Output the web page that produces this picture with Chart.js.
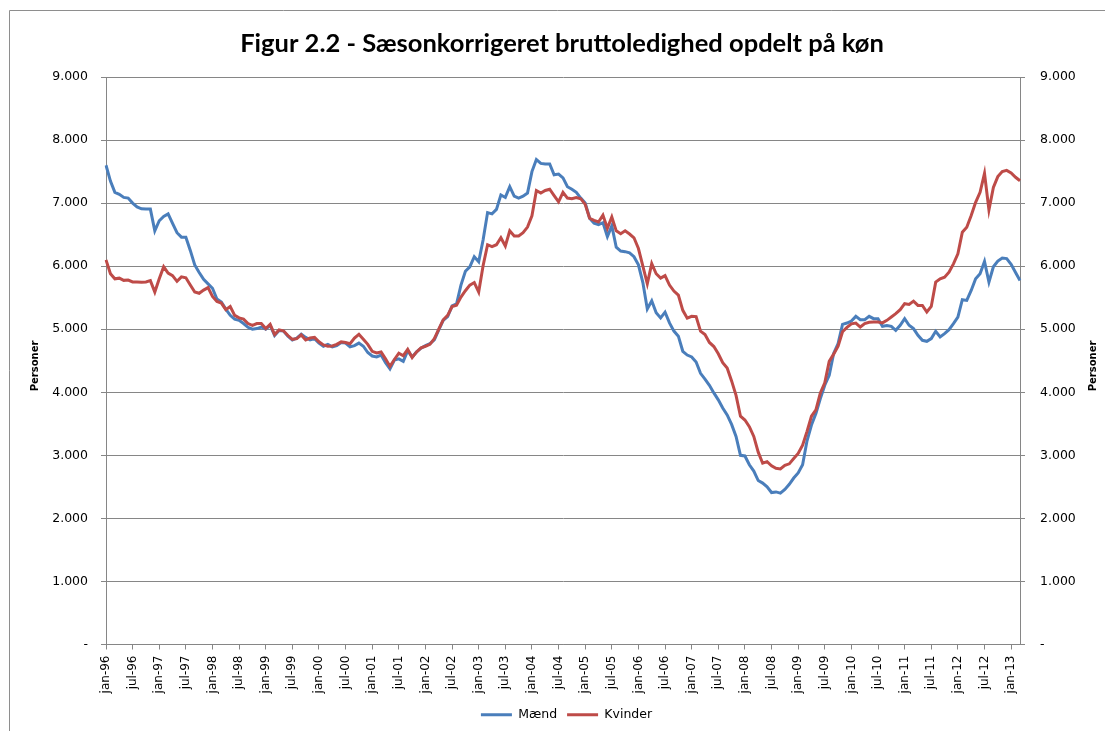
<!DOCTYPE html>
<html>
<head>
<meta charset="utf-8">
<script src="https://cdn.jsdelivr.net/npm/chart.js@4.4.0/dist/chart.umd.min.js"></script>
<style>
  html, body { margin: 0; padding: 0; background: #fff; }
  #chart { display: block; }
</style>
</head>
<body>
<canvas id="chart" width="1105" height="731"></canvas>
<script>
// Måneder jan-96 .. mar-13
const monthNames = ["jan", "feb", "mar", "apr", "maj", "jun", "jul", "aug", "sep", "okt", "nov", "dec"];
const months = [];
for (let y = 1996; y <= 2013; y++) {
  monthNames.forEach((m, i) => {
    if (y === 2013 && i > 2) return;
    months.push(m + "-" + String(y).slice(2));
  });
}

// Sæsonkorrigeret bruttoledighed, personer
const maend = [
  7600, 7350, 7170, 7140, 7090, 7080, 7000, 6940, 6910, 6905,
  6905, 6560, 6720, 6790, 6830, 6680, 6530, 6460, 6460, 6250,
  6020, 5900, 5790, 5720, 5650, 5480, 5430, 5320, 5220, 5160,
  5140, 5090, 5030, 5000, 5010, 5035, 5000, 5060, 4900, 4980,
  4970, 4890, 4830, 4860, 4920, 4870, 4830, 4850, 4780, 4730,
  4760, 4720, 4740, 4790, 4780, 4720, 4740, 4780, 4730, 4630,
  4575, 4560, 4590, 4470, 4370, 4510, 4530, 4490, 4660, 4560,
  4640, 4700, 4740, 4770, 4830, 4990, 5140, 5200, 5370, 5400,
  5700, 5920, 5990, 6150, 6070, 6420, 6850, 6830, 6900, 7130,
  7090, 7260, 7110, 7080, 7110, 7160, 7500, 7690, 7630, 7620,
  7620, 7450, 7460, 7400, 7260, 7220, 7170, 7080, 7000, 6760,
  6680, 6660, 6690, 6470, 6640, 6300, 6240, 6230, 6210, 6150,
  6020, 5740, 5320, 5450, 5260, 5180, 5270, 5100, 4970, 4890,
  4650, 4590, 4560, 4480, 4300, 4210, 4110, 3990, 3880, 3750,
  3640, 3490, 3300, 3000, 2990, 2850, 2750, 2600, 2560, 2500,
  2410, 2420, 2400, 2460, 2540, 2640, 2720, 2850, 3230, 3480,
  3665, 3902, 4113, 4271, 4614, 4772, 5077, 5098, 5130, 5204,
  5151, 5151, 5204, 5167, 5167, 5046, 5060, 5046, 4983, 5062,
  5167, 5062, 5009, 4903, 4824, 4808, 4851, 4967, 4877, 4930,
  4993, 5088, 5193, 5468, 5457, 5615, 5800, 5879, 6074, 5747,
  5990, 6080, 6130, 6120, 6030, 5900, 5773
];
const kvinder = [
  6100, 5880, 5800, 5810, 5775, 5780, 5750, 5750, 5745, 5750,
  5770, 5590, 5800, 5990, 5890, 5850, 5760, 5830, 5815, 5700,
  5590, 5570, 5620, 5660, 5520, 5440, 5415, 5310, 5360, 5220,
  5180, 5160, 5090, 5060, 5090, 5090, 5010, 5077, 4915, 4990,
  4975, 4900, 4840, 4850, 4910, 4830, 4860, 4870, 4800, 4750,
  4730, 4735, 4760, 4800, 4790, 4770, 4860, 4920, 4840, 4760,
  4650, 4625, 4640, 4530, 4410, 4520, 4620, 4580, 4680, 4551,
  4640, 4705, 4730, 4760, 4850, 5000, 5150, 5220, 5360, 5380,
  5510, 5610, 5700, 5740, 5590, 6010, 6340, 6310, 6340, 6450,
  6320, 6560, 6480, 6480, 6530, 6620, 6800, 7200, 7160, 7200,
  7220, 7120, 7020, 7170, 7080, 7070, 7090, 7070, 6980, 6760,
  6725, 6700, 6810, 6600, 6780, 6560, 6515, 6560, 6510, 6450,
  6280, 6000, 5720, 6040, 5880, 5810, 5850, 5700, 5605, 5540,
  5300, 5175, 5205, 5200, 4970, 4915, 4790, 4725, 4610, 4470,
  4385, 4180, 3950, 3620, 3560, 3455, 3300, 3050, 2875, 2900,
  2835, 2795, 2784, 2840, 2865, 2950, 3030, 3160, 3380, 3620,
  3720, 3990, 4150, 4490, 4605, 4730, 4960, 5030, 5085, 5098,
  5035, 5090, 5110, 5114, 5114, 5100, 5141, 5193, 5246, 5310,
  5405, 5394, 5446, 5378, 5378, 5273, 5362, 5747, 5800, 5826,
  5905, 6037, 6196, 6537, 6616, 6802, 7012, 7171, 7471, 6892,
  7250, 7420, 7500, 7520, 7480, 7410, 7355
];

const yTickLabels = ["-", "1.000", "2.000", "3.000", "4.000", "5.000", "6.000", "7.000", "8.000", "9.000"];

const titleText = "Figur 2.2 - Sæsonkorrigeret bruttoledighed opdelt på køn";
const axisTitle = "Personer";

const gridColor = "#868686";

// Ramme, titel og aksetitler
const decor = {
  id: "decor",
  afterLayout(chart) {
    // Excel-forklaringen sidder lidt til højre for midten
    chart.legend.left += 14;
    chart.legend.right += 14;
  },
  beforeDraw(chart) {
    const ctx = chart.ctx;
    ctx.save();
    ctx.fillStyle = "#fff";
    ctx.fillRect(0, 0, chart.width, chart.height);
    ctx.strokeStyle = "#8e8e8e";
    ctx.lineWidth = 1;
    ctx.beginPath();
    ctx.moveTo(9.5, chart.height);
    ctx.lineTo(9.5, 10.5);
    ctx.lineTo(chart.width, 10.5);
    ctx.stroke();
    ctx.restore();
  },
  afterDraw(chart) {
    const ctx = chart.ctx;
    ctx.save();
    ctx.fillStyle = "#000";
    ctx.textAlign = "center";
    ctx.textBaseline = "middle";
    ctx.font = "bold 25.5px Lato";
    ctx.fillText(titleText, 562, 44);

    ctx.font = "bold 10px 'DejaVu Sans'";
    [35, 1093].forEach((x) => {
      ctx.save();
      ctx.translate(x, 366);
      ctx.rotate(-Math.PI / 2);
      ctx.fillText(axisTitle, 0, 0);
      ctx.restore();
    });
    ctx.restore();
  }
};

const tickFont = { family: "DejaVu Sans", size: 12 };
const valueFont = { family: "DejaVu Sans", size: 12.5 };

new Chart(document.getElementById("chart"), {
  type: "line",
  data: {
    labels: months,
    datasets: [
      {
        label: "Mænd",
        data: maend,
        borderColor: "#4a7ebb",
        backgroundColor: "#4a7ebb",
        borderWidth: 3,
        pointRadius: 0,
        tension: 0,
        order: 1
      },
      {
        label: "Kvinder",
        data: kvinder,
        borderColor: "#be4b48",
        backgroundColor: "#be4b48",
        borderWidth: 3,
        pointRadius: 0,
        tension: 0,
        order: 0
      }
    ]
  },
  options: {
    responsive: false,
    devicePixelRatio: 1,
    animation: false,
    layout: { padding: { top: 77, left: 0, right: 0, bottom: 0 } },
    plugins: {
      legend: {
        position: "bottom",
        labels: {
          usePointStyle: true,
          pointStyle: "line",
          pointStyleWidth: 31,
          color: "#000",
          font: valueFont,
          padding: 10,
          sort: (a, b) => a.datasetIndex - b.datasetIndex
        }
      },
      tooltip: { enabled: false },
      title: { display: false }
    },
    scales: {
      x: {
        type: "category",
        grid: { drawOnChartArea: false, color: gridColor, tickLength: 5 },
        border: { color: gridColor },
        ticks: {
          autoSkip: false,
          minRotation: 90,
          maxRotation: 90,
          padding: 6,
          color: "#000",
          font: tickFont,
          callback: function (value, index) {
            return index % 6 === 0 ? months[index] : null;
          }
        },
        afterFit: (scale) => { scale.height = 54; }
      },
      y: {
        position: "left",
        min: 0,
        max: 9000,
        grid: { color: gridColor, tickLength: 5 },
        border: { color: gridColor },
        ticks: {
          stepSize: 1000,
          padding: 13,
          color: "#000",
          font: valueFont,
          callback: (value, index) => yTickLabels[index]
        },
        afterFit: (scale) => { scale.width = 106; }
      },
      y2: {
        position: "right",
        min: 0,
        max: 9000,
        grid: { drawOnChartArea: false, color: gridColor, tickLength: 5 },
        border: { color: gridColor },
        ticks: {
          stepSize: 1000,
          padding: 15,
          color: "#000",
          font: valueFont,
          callback: (value, index) => yTickLabels[index]
        },
        afterFit: (scale) => { scale.width = 85; }
      }
    }
  },
  plugins: [decor]
});
</script>
</body>
</html>
